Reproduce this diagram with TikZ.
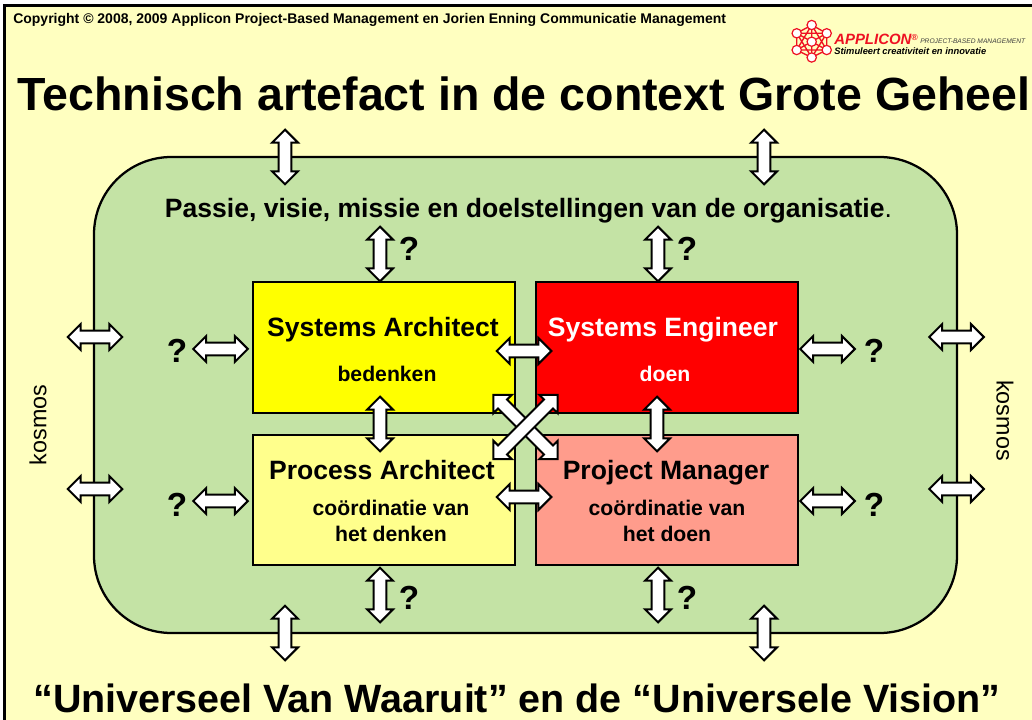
\documentclass[tikz,border=0pt]{standalone}
\usepackage{fontspec}
\setmainfont{Liberation Sans}
\usetikzlibrary{shapes.arrows}
\definecolor{slidebg}{HTML}{FFFFC0}
\definecolor{groen}{HTML}{C4E3A5}
\definecolor{zalm}{HTML}{FF9C8C}
\definecolor{lichtgeel}{HTML}{FFFF8C}
\definecolor{puurgeel}{HTML}{FFFF00}
\definecolor{puurrood}{HTML}{FF0000}
\definecolor{logored}{HTML}{EE1122}
\tikzset{
  dblarrow/.style={shape=double arrow,draw=black,fill=white,line width=1.5pt,
    minimum height=41pt,minimum width=18pt,inner sep=4pt,
    double arrow head extend=4.9pt},
  crossarrow/.style={dblarrow,minimum height=68pt},
  roleblock/.style={draw=black,line width=1.3pt,minimum width=197pt,minimum height=98pt},
  rolename/.style={anchor=base,inner sep=0pt,font=\bfseries\fontsize{19.9}{22}\selectfont},
  roletask/.style={font=\bfseries\fontsize{15.9}{19.5}\selectfont,align=center},
  vraag/.style={font=\bfseries\fontsize{25}{28}\selectfont},
  atom/.style={circle,draw=logored,fill=white,line width=0.9pt,minimum size=7pt,inner sep=0pt}
}
\begin{document}
\begin{tikzpicture}[x=0.75pt,y=-0.75pt]
\useasboundingbox (0,0) rectangle (1032,720);
% achtergrond
    \fill[white] (0,0) rectangle (1032,720);
    \draw[fill=slidebg,line width=2.3pt] (4.5,5.5) rectangle (1040,730);
    \node[anchor=west,font=\bfseries\fontsize{10.5}{12}\selectfont,inner sep=0pt] (copyright) at (13,19.5) {Copyright © 2008, 2009 Applicon Project-Based Management en Jorien Enning Communicatie Management};
    \node[font=\bfseries\fontsize{34.9}{40}\selectfont,inner sep=0pt] (titel) at (524,94) {Technisch artefact in de context Grote Geheel};
    \node[font=\bfseries\fontsize{29.6}{32}\selectfont,inner sep=0pt] (ondertitel) at (517,698) {“Universeel Van Waaruit” en de “Universele Vision”};

% logo
    \coordinate (l0) at (811.7,41.7);
    \coordinate (l1) at (811.7,25);
    \coordinate (l2) at (826.7,33.3);
    \coordinate (l3) at (826.7,50);
    \coordinate (l4) at (811.7,57.5);
    \coordinate (l5) at (796.7,50);
    \coordinate (l6) at (796.7,33.3);
    \draw[logored,line width=1pt] (l1) -- (l2) -- (l3) -- (l4) -- (l5) -- (l6) -- (l1);
    \draw[logored,line width=1pt] (l1) -- (l4) (l2) -- (l5) (l3) -- (l6);
    \draw[logored,line width=1pt] (l1) -- (l3) -- (l5) -- (l1) (l2) -- (l4) -- (l6) -- (l2);
    \node[atom] at (l0) {};
    \node[atom] at (l1) {};
    \node[atom] at (l2) {};
    \node[atom] at (l3) {};
    \node[atom] at (l4) {};
    \node[atom] at (l5) {};
    \node[atom] at (l6) {};
    \node[anchor=base west,inner sep=0pt,text=logored,font=\bfseries\itshape\fontsize{11.2}{12}\selectfont] (applicon) at (834,44.5) {APPLICON\raisebox{3pt}{\fontsize{6.5}{7}\selectfont®}};
    \node[anchor=base west,inner sep=0pt,text=black!75,font=\itshape\fontsize{5}{6}\selectfont] (pbm) at (920,43.5) {PROJECT-BASED MANAGEMENT};
    \node[anchor=base west,inner sep=0pt,font=\bfseries\itshape\fontsize{7}{8}\selectfont] (slogan) at (834,54.5) {Stimuleert creativiteit en innovatie};

% context
    \draw[fill=groen,line width=1.7pt,rounded corners=58pt] (94,157) rectangle (957,633);
    \node[anchor=base,inner sep=0pt,font=\bfseries\fontsize{19.9}{22}\selectfont] (passie) at (528.5,217.5) {Passie, visie, missie en doelstellingen van de organisatie\textmd{.}};
    \node[rotate=90,font=\fontsize{17.5}{18}\selectfont,inner sep=0pt] (kosmosl) at (38,425) {kosmos};
    \node[rotate=-90,font=\fontsize{17.5}{18}\selectfont,inner sep=0pt] (kosmosr) at (1005,420.5) {kosmos};

% rollen
    \node[roleblock,fill=puurgeel] (sa) at (384,347.5) {};
    \node[roleblock,fill=puurrood] (se) at (667,347.5) {};
    \node[roleblock,fill=lichtgeel] (pa) at (384,500) {};
    \node[roleblock,fill=zalm] (pm) at (667,500) {};

    \node[rolename] at (383,337) {Systems Architect};
    \node[rolename,text=white] at (663,337) {Systems Engineer};
    \node[rolename] at (382,479) {Process Architect};
    \node[rolename] at (666,479) {Project Manager};
    \node[roletask] at (387,374) {bedenken};
    \node[roletask,text=white] at (665,374) {doen};
    \node[roletask] at (391,521) {coördinatie van\\het denken};
    \node[roletask] at (667,521) {coördinatie van\\het doen};

% pijlen buiten
    \node[dblarrow,rotate=90] (ab1) at (285,157) {};
    \node[dblarrow,rotate=90] (ab2) at (764,157) {};
    \node[dblarrow,rotate=90] (ao1) at (285,633) {};
    \node[dblarrow,rotate=90] (ao2) at (764,633) {};
    \node[dblarrow] (al1) at (95,337) {};
    \node[dblarrow] (al2) at (95,489) {};
    \node[dblarrow] (ar1) at (956.5,337) {};
    \node[dblarrow] (ar2) at (956.5,489) {};

% pijlen binnen
    \node[dblarrow,rotate=90] (ib1) at (380,254) {};
    \node[dblarrow,rotate=90] (ib2) at (658,254) {};
    \node[dblarrow,rotate=90] (io1) at (380,595) {};
    \node[dblarrow,rotate=90] (io2) at (658,595) {};
    \node[dblarrow] (il1) at (220.5,349) {};
    \node[dblarrow] (il2) at (220.5,501) {};
    \node[dblarrow] (ir1) at (827.5,349) {};
    \node[dblarrow] (ir2) at (827.5,501) {};

% pijlen tussen de rollen
    \node[dblarrow] (m1) at (524,351) {};
    \node[dblarrow] (m2) at (524,497) {};
    \node[dblarrow,rotate=90] (m3) at (380,424) {};
    \node[dblarrow,rotate=90] (m4) at (657,424) {};
    \node[crossarrow,rotate=-45] (k1) at (525.5,427) {};
    \node[crossarrow,rotate=45] (k2) at (525.5,427) {};

% vraagtekens
    \node[vraag] (q1) at (409,249) {?};
    \node[vraag] (q2) at (687,249) {?};
    \node[vraag] (q3) at (409,598) {?};
    \node[vraag] (q4) at (687,598) {?};
    \node[vraag] (q5) at (177,351) {?};
    \node[vraag] (q6) at (177,505) {?};
    \node[vraag] (q7) at (874,351) {?};
    \node[vraag] (q8) at (874,505) {?};
\end{tikzpicture}
\end{document}
